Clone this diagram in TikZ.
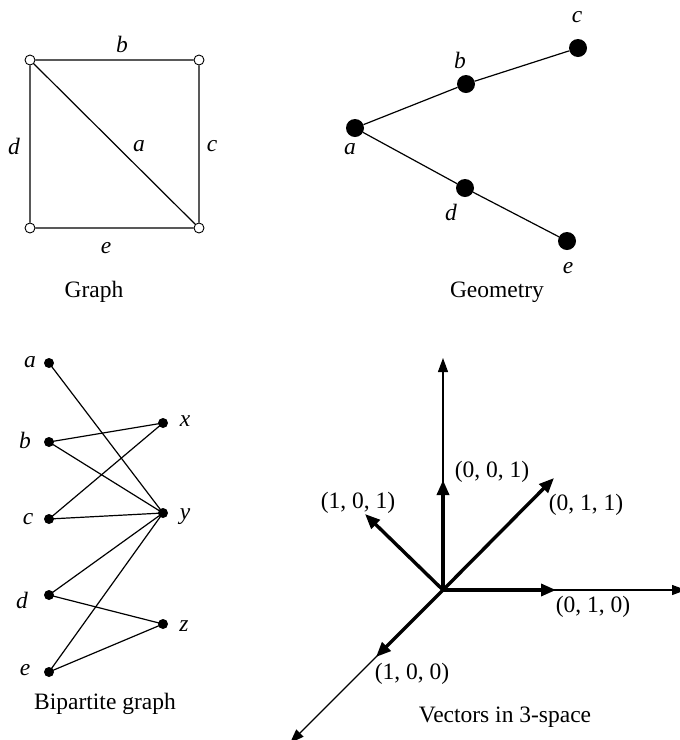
\documentclass[tikz,border=0pt]{standalone}
\usepackage{fontspec}
\setmainfont{Liberation Serif}
\usetikzlibrary{arrows.meta}

\newcommand{\figsize}{\fontsize{23.5}{26}\selectfont}

\tikzset{
  vtx/.style={circle, draw, fill=white, line width=0.9pt, inner sep=0pt, minimum size=10pt},
  bigdot/.style={circle, fill, inner sep=0pt, minimum size=18pt},
  smalldot/.style={circle, fill, inner sep=0pt, minimum size=10pt},
  lbl/.style={font=\figsize\itshape},
  edge/.style={line width=1.2pt},
  axis/.style={line width=1.2pt, -{Triangle[length=14pt,width=10pt]}},
  vec/.style={line width=3.4pt, -{Triangle[length=15pt,width=12pt]}},
}

\begin{document}
\begin{tikzpicture}[x=1pt, y=-1pt, font=\figsize]
				\useasboundingbox (0,0) rectangle (680,740);
				
				% Graph: square with a diagonal
				\node[vtx] (tl) at (30,60) {};
				\node[vtx] (tr) at (199,60) {};
				\node[vtx] (bl) at (30,228) {};
				\node[vtx] (br) at (199,228) {};
				\draw[edge] (tl) -- (tr) -- (br) -- (bl) -- (tl) -- (br);
				
				\node[lbl] at (122,44) {b};
				\node[lbl] at (139,146) {a};
				\node[lbl] at (212,146) {c};
				\node[lbl] at (14,146) {d};
				\node[lbl] at (106,248) {e};
				\node (gcap) at (94,292) {Graph};
				
				% Geometry: points joined by segments
				\node[bigdot] (ga) at (355,128) {};
				\node[bigdot] (gb) at (466,84) {};
				\node[bigdot] (gc) at (578,48) {};
				\node[bigdot] (gd) at (465,188) {};
				\node[bigdot] (ge) at (567,241) {};
				\draw[edge] (ga) -- (gb) -- (gc);
				\draw[edge] (ga) -- (gd) -- (ge);
				
				\node[lbl] at (577,17) {c};
				\node[lbl] at (460,60) {b};
				\node[lbl] at (350,149) {a};
				\node[lbl] at (451,212) {d};
				\node[lbl] at (568,268) {e};
				\node (geocap) at (497,292) {Geometry};
				
				% Bipartite graph
				\node[smalldot] (a) at (49,363) {};
				\node[smalldot] (b) at (49,442) {};
				\node[smalldot] (c) at (49,519) {};
				\node[smalldot] (d) at (49,595) {};
				\node[smalldot] (e) at (49,672) {};
				\node[smalldot] (x) at (163,423) {};
				\node[smalldot] (y) at (163,513) {};
				\node[smalldot] (z) at (163,624) {};
				
				\foreach \u/\v in {a/y, b/x, b/y, c/x, c/y, d/y, d/z, e/y, e/z}
					\draw[edge] (\u.center) -- (\v.center);
				
				\node[lbl] at (30,362) {a};
				\node[lbl] at (25,440) {b};
				\node[lbl] at (28,519) {c};
				\node[lbl] at (22,600) {d};
				\node[lbl] at (25,670) {e};
				\node[lbl] at (185,421) {x};
				\node[lbl] at (185,517) {y};
				\node[lbl] at (184,626) {z};
				\node (bcap) at (105,704) {Bipartite graph};
				
				% Vectors in 3-space
				\coordinate (O) at (443,590);
				\coordinate (zaxis) at (443,358);
				\coordinate (yaxis) at (686,590);
				\coordinate (xaxis) at (290,743);
				\draw[axis] (O) -- (zaxis);
				\draw[axis] (O) -- (yaxis);
				\draw[axis] (O) -- (xaxis);
				
				\coordinate (v001) at (443,480);
				\coordinate (v010) at (556,590);
				\coordinate (v011) at (554,478);
				\coordinate (v101) at (365,514);
				\coordinate (v100) at (376,657);
				\foreach \t in {v001,v010,v011,v101,v100}
					\draw[vec] (O) -- (\t);
				
				\node at (492,472) {(0, 0, 1)};
				\node at (358,503) {(1, 0, 1)};
				\node at (586,505) {(0, 1, 1)};
				\node at (593,607) {(0, 1, 0)};
				\node at (412,674) {(1, 0, 0)};
				\node (vcap) at (505,717) {Vectors in 3-space};
			\end{tikzpicture}
\end{document}
